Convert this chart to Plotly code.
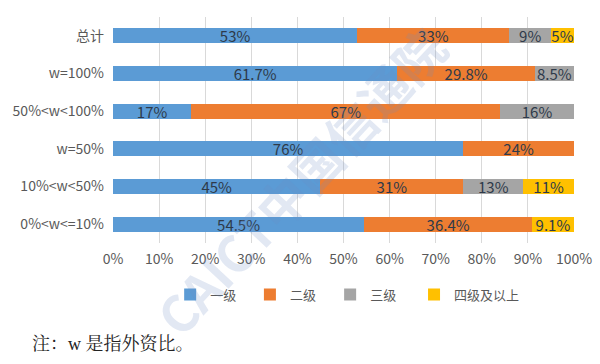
import plotly.graph_objects as go

categories = ["总计", "w=100%", "50%<w<100%", "w=50%", "10%<w<50%", "0%<w<=10%"]
series_names = ["一级", "二级", "三级", "四级及以上"]
level1 = [53, 61.7, 17, 76, 45, 54.5]
level2 = [33, 29.8, 67, 24, 31, 36.4]
level3 = [9, 8.5, 16, 0, 13, 0]
level4 = [5, 0, 0, 0, 11, 9.1]
colors = ["#5B9BD5", "#ED7D31", "#A5A5A5", "#FFC000"]
tick_vals = [0, 10, 20, 30, 40, 50, 60, 70, 80, 90, 100]
tick_text = [f"{v}%" for v in tick_vals]

legend_ids = ["legend", "legend2", "legend3", "legend4"]
legend_x = [0.124, 0.297, 0.471, 0.653]

fig = go.Figure()
for name, vals, col, lid in zip(series_names, [level1, level2, level3, level4], colors, legend_ids):
    fig.add_trace(go.Bar(
        y=categories, x=vals, name=name, orientation="h", legend=lid,
        marker=dict(color=col, line=dict(width=0)),
        text=[f"{v:g}%" if v > 0 else "" for v in vals],
        textposition="inside", insidetextanchor="middle",
        textfont=dict(size=15, color="#2E3A4A", family="Noto Sans CJK SC"),
        constraintext="none", cliponaxis=False,
    ))

legend_style = dict(orientation="h", xanchor="left", y=-0.228, yanchor="middle",
                    font=dict(size=13, color="#595959"), itemwidth=30,
                    bgcolor="rgba(0,0,0,0)", itemclick=False)
layout_legends = {}
for lid, lx in zip(legend_ids, legend_x):
    layout_legends[lid] = dict(legend_style, x=lx)

fig.update_layout(
    barmode="stack", bargap=0.6,
    width=600, height=364,
    margin=dict(l=113, r=26, t=17, b=121, autoexpand=False),
    paper_bgcolor="white", plot_bgcolor="white",
    font=dict(family="Noto Sans CJK SC", size=12, color="#595959"),
    xaxis=dict(range=[0, 100], tickvals=tick_vals, ticktext=tick_text,
               showgrid=True, gridcolor="#D9D9D9", gridwidth=1,
               zeroline=False, showline=False, ticks="", automargin=False,
               ticklabelstandoff=6,
               tickfont=dict(size=14, color="#595959")),
    yaxis=dict(autorange="reversed", showgrid=False, ticks="", showline=False,
               automargin=False, ticklabelstandoff=8,
               tickfont=dict(size=14, color="#595959")),
    showlegend=True,
    **layout_legends,
)
fig.add_annotation(text="CAICT中国信通院", xref="paper", yref="paper",
                   x=0.405, y=0.28, xanchor="center", yanchor="middle",
                   textangle=-47, showarrow=False,
                   font=dict(size=50, color="rgba(110,140,195,0.2)",
                             family="Noto Sans CJK SC", weight="bold"))
fig.add_annotation(text="注：w 是指外资比。", xref="paper", yref="paper",
                   x=-0.18, y=-0.449, xanchor="left", yanchor="middle",
                   showarrow=False,
                   font=dict(size=18, color="#222222",
                             family="Liberation Serif, Noto Serif CJK SC, Noto Sans CJK SC"))

fig.write_html("out.html", config={"displayModeBar": False},
               post_script="document.body.style.margin='0';document.body.style.overflow='hidden';")
